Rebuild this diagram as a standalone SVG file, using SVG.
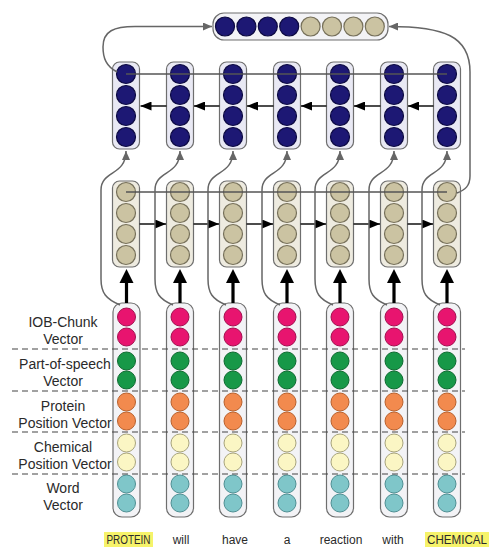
<svg xmlns="http://www.w3.org/2000/svg" width="492" height="550" viewBox="0 0 492 550">
<defs>
<style>
.bx{stroke:#6e6e6e;stroke-width:1.2}
.bt{fill:#e9e9f4}
.bm{fill:#eeebe0}
.bb{fill:#f3f3f6}
.db{fill:#1d1874;stroke:#0d0a42;stroke-width:1.2}
.tn{fill:#cbc3a2;stroke:#76705a;stroke-width:1.2}
.pk{fill:#e8146f;stroke:#a3104f;stroke-width:1}
.gr{fill:#179848;stroke:#0e6a30;stroke-width:1}
.or{fill:#f28a4e;stroke:#b8602c;stroke-width:1}
.ye{fill:#fbf6c4;stroke:#a8a47c;stroke-width:1}
.te{fill:#7fc6c9;stroke:#4f8f93;stroke-width:1}
.hl{stroke:#555;stroke-width:1.3;fill:none}
.ak{stroke:#111;stroke-width:1.5;fill:none;marker-end:url(#ab)}
.cv{stroke:#666;stroke-width:1.5;fill:none;marker-end:url(#ag)}
.th{stroke:#000;stroke-width:3.2}
.dash{stroke:#444;stroke-width:1.2;stroke-dasharray:6 4}
.lb{font-family:"Liberation Sans",Arial,sans-serif;font-size:14px;fill:#2a2a2a;text-anchor:middle}
.wd{font-family:"Liberation Sans",Arial,sans-serif;font-size:12px;fill:#2a2a2a;text-anchor:middle}
</style>
<marker id="ab" markerUnits="userSpaceOnUse" markerWidth="11" markerHeight="9" refX="11" refY="4.5" orient="auto"><path d="M0,0 L11,4.5 L0,9 z" fill="#000"/></marker>
<marker id="ag" markerUnits="userSpaceOnUse" markerWidth="9" markerHeight="8" refX="9" refY="4" orient="auto"><path d="M0,0 L9,4 L0,8 z" fill="#666"/></marker>
</defs>
<rect width="492" height="550" fill="#fff"/>

<g id="output">
<rect class="bx bb" x="213" y="13" width="175" height="27" rx="11"/>
<circle class="db" cx="225" cy="26.5" r="9.5"/>
<circle class="db" cx="246.4" cy="26.5" r="9.5"/>
<circle class="db" cx="267.8" cy="26.5" r="9.5"/>
<circle class="db" cx="289.2" cy="26.5" r="9.5"/>
<circle class="tn" cx="310.6" cy="26.5" r="9.5"/>
<circle class="tn" cx="332" cy="26.5" r="9.5"/>
<circle class="tn" cx="353.4" cy="26.5" r="9.5"/>
<circle class="tn" cx="374.8" cy="26.5" r="9.5"/>
</g>

<g id="top-layer">
<g id="t1"><rect class="bx bt" x="112.5" y="62" width="27" height="87" rx="7"/><circle class="db" cx="126" cy="74" r="9.5"/><circle class="db" cx="126" cy="95" r="9.5"/><circle class="db" cx="126" cy="116" r="9.5"/><circle class="db" cx="126" cy="137" r="9.5"/></g>
<g id="t2"><rect class="bx bt" x="166.5" y="62" width="27" height="87" rx="7"/><circle class="db" cx="180" cy="74" r="9.5"/><circle class="db" cx="180" cy="95" r="9.5"/><circle class="db" cx="180" cy="116" r="9.5"/><circle class="db" cx="180" cy="137" r="9.5"/></g>
<g id="t3"><rect class="bx bt" x="219.5" y="62" width="27" height="87" rx="7"/><circle class="db" cx="233" cy="74" r="9.5"/><circle class="db" cx="233" cy="95" r="9.5"/><circle class="db" cx="233" cy="116" r="9.5"/><circle class="db" cx="233" cy="137" r="9.5"/></g>
<g id="t4"><rect class="bx bt" x="273.5" y="62" width="27" height="87" rx="7"/><circle class="db" cx="287" cy="74" r="9.5"/><circle class="db" cx="287" cy="95" r="9.5"/><circle class="db" cx="287" cy="116" r="9.5"/><circle class="db" cx="287" cy="137" r="9.5"/></g>
<g id="t5"><rect class="bx bt" x="326.5" y="62" width="27" height="87" rx="7"/><circle class="db" cx="340" cy="74" r="9.5"/><circle class="db" cx="340" cy="95" r="9.5"/><circle class="db" cx="340" cy="116" r="9.5"/><circle class="db" cx="340" cy="137" r="9.5"/></g>
<g id="t6"><rect class="bx bt" x="380.5" y="62" width="27" height="87" rx="7"/><circle class="db" cx="394" cy="74" r="9.5"/><circle class="db" cx="394" cy="95" r="9.5"/><circle class="db" cx="394" cy="116" r="9.5"/><circle class="db" cx="394" cy="137" r="9.5"/></g>
<g id="t7"><rect class="bx bt" x="433.5" y="62" width="27" height="87" rx="7"/><circle class="db" cx="447" cy="74" r="9.5"/><circle class="db" cx="447" cy="95" r="9.5"/><circle class="db" cx="447" cy="116" r="9.5"/><circle class="db" cx="447" cy="137" r="9.5"/></g>
</g>

<g id="mid-layer">
<g id="m1"><rect class="bx bm" x="112.5" y="181" width="27" height="86" rx="7"/><circle class="tn" cx="126" cy="192" r="9.5"/><circle class="tn" cx="126" cy="213" r="9.5"/><circle class="tn" cx="126" cy="234" r="9.5"/><circle class="tn" cx="126" cy="255" r="9.5"/></g>
<g id="m2"><rect class="bx bm" x="166.5" y="181" width="27" height="86" rx="7"/><circle class="tn" cx="180" cy="192" r="9.5"/><circle class="tn" cx="180" cy="213" r="9.5"/><circle class="tn" cx="180" cy="234" r="9.5"/><circle class="tn" cx="180" cy="255" r="9.5"/></g>
<g id="m3"><rect class="bx bm" x="219.5" y="181" width="27" height="86" rx="7"/><circle class="tn" cx="233" cy="192" r="9.5"/><circle class="tn" cx="233" cy="213" r="9.5"/><circle class="tn" cx="233" cy="234" r="9.5"/><circle class="tn" cx="233" cy="255" r="9.5"/></g>
<g id="m4"><rect class="bx bm" x="273.5" y="181" width="27" height="86" rx="7"/><circle class="tn" cx="287" cy="192" r="9.5"/><circle class="tn" cx="287" cy="213" r="9.5"/><circle class="tn" cx="287" cy="234" r="9.5"/><circle class="tn" cx="287" cy="255" r="9.5"/></g>
<g id="m5"><rect class="bx bm" x="326.5" y="181" width="27" height="86" rx="7"/><circle class="tn" cx="340" cy="192" r="9.5"/><circle class="tn" cx="340" cy="213" r="9.5"/><circle class="tn" cx="340" cy="234" r="9.5"/><circle class="tn" cx="340" cy="255" r="9.5"/></g>
<g id="m6"><rect class="bx bm" x="380.5" y="181" width="27" height="86" rx="7"/><circle class="tn" cx="394" cy="192" r="9.5"/><circle class="tn" cx="394" cy="213" r="9.5"/><circle class="tn" cx="394" cy="234" r="9.5"/><circle class="tn" cx="394" cy="255" r="9.5"/></g>
<g id="m7"><rect class="bx bm" x="433.5" y="181" width="27" height="86" rx="7"/><circle class="tn" cx="447" cy="192" r="9.5"/><circle class="tn" cx="447" cy="213" r="9.5"/><circle class="tn" cx="447" cy="234" r="9.5"/><circle class="tn" cx="447" cy="255" r="9.5"/></g>
</g>

<g id="input-layer">
<g id="i1"><rect class="bx bb" x="113" y="303" width="27" height="214" rx="9"/><circle class="pk" cx="126.5" cy="317" r="9"/><circle class="pk" cx="126.5" cy="337" r="9"/><circle class="gr" cx="126.5" cy="361" r="9"/><circle class="gr" cx="126.5" cy="380" r="9"/><circle class="or" cx="126.5" cy="402" r="9"/><circle class="or" cx="126.5" cy="421" r="9"/><circle class="ye" cx="126.5" cy="443" r="9"/><circle class="ye" cx="126.5" cy="462" r="9"/><circle class="te" cx="126.5" cy="484" r="9"/><circle class="te" cx="126.5" cy="503" r="9"/></g>
<g id="i2"><rect class="bx bb" x="166.5" y="303" width="27" height="214" rx="9"/><circle class="pk" cx="180" cy="317" r="9"/><circle class="pk" cx="180" cy="337" r="9"/><circle class="gr" cx="180" cy="361" r="9"/><circle class="gr" cx="180" cy="380" r="9"/><circle class="or" cx="180" cy="402" r="9"/><circle class="or" cx="180" cy="421" r="9"/><circle class="ye" cx="180" cy="443" r="9"/><circle class="ye" cx="180" cy="462" r="9"/><circle class="te" cx="180" cy="484" r="9"/><circle class="te" cx="180" cy="503" r="9"/></g>
<g id="i3"><rect class="bx bb" x="219.5" y="303" width="27" height="214" rx="9"/><circle class="pk" cx="233" cy="317" r="9"/><circle class="pk" cx="233" cy="337" r="9"/><circle class="gr" cx="233" cy="361" r="9"/><circle class="gr" cx="233" cy="380" r="9"/><circle class="or" cx="233" cy="402" r="9"/><circle class="or" cx="233" cy="421" r="9"/><circle class="ye" cx="233" cy="443" r="9"/><circle class="ye" cx="233" cy="462" r="9"/><circle class="te" cx="233" cy="484" r="9"/><circle class="te" cx="233" cy="503" r="9"/></g>
<g id="i4"><rect class="bx bb" x="273.5" y="303" width="27" height="214" rx="9"/><circle class="pk" cx="287" cy="317" r="9"/><circle class="pk" cx="287" cy="337" r="9"/><circle class="gr" cx="287" cy="361" r="9"/><circle class="gr" cx="287" cy="380" r="9"/><circle class="or" cx="287" cy="402" r="9"/><circle class="or" cx="287" cy="421" r="9"/><circle class="ye" cx="287" cy="443" r="9"/><circle class="ye" cx="287" cy="462" r="9"/><circle class="te" cx="287" cy="484" r="9"/><circle class="te" cx="287" cy="503" r="9"/></g>
<g id="i5"><rect class="bx bb" x="326.5" y="303" width="27" height="214" rx="9"/><circle class="pk" cx="340" cy="317" r="9"/><circle class="pk" cx="340" cy="337" r="9"/><circle class="gr" cx="340" cy="361" r="9"/><circle class="gr" cx="340" cy="380" r="9"/><circle class="or" cx="340" cy="402" r="9"/><circle class="or" cx="340" cy="421" r="9"/><circle class="ye" cx="340" cy="443" r="9"/><circle class="ye" cx="340" cy="462" r="9"/><circle class="te" cx="340" cy="484" r="9"/><circle class="te" cx="340" cy="503" r="9"/></g>
<g id="i6"><rect class="bx bb" x="380.5" y="303" width="27" height="214" rx="9"/><circle class="pk" cx="394" cy="317" r="9"/><circle class="pk" cx="394" cy="337" r="9"/><circle class="gr" cx="394" cy="361" r="9"/><circle class="gr" cx="394" cy="380" r="9"/><circle class="or" cx="394" cy="402" r="9"/><circle class="or" cx="394" cy="421" r="9"/><circle class="ye" cx="394" cy="443" r="9"/><circle class="ye" cx="394" cy="462" r="9"/><circle class="te" cx="394" cy="484" r="9"/><circle class="te" cx="394" cy="503" r="9"/></g>
<g id="i7"><rect class="bx bb" x="433.5" y="303" width="27" height="214" rx="9"/><circle class="pk" cx="447" cy="317" r="9"/><circle class="pk" cx="447" cy="337" r="9"/><circle class="gr" cx="447" cy="361" r="9"/><circle class="gr" cx="447" cy="380" r="9"/><circle class="or" cx="447" cy="402" r="9"/><circle class="or" cx="447" cy="421" r="9"/><circle class="ye" cx="447" cy="443" r="9"/><circle class="ye" cx="447" cy="462" r="9"/><circle class="te" cx="447" cy="484" r="9"/><circle class="te" cx="447" cy="503" r="9"/></g>
</g>

<g id="separators">
<line class="dash" x1="12" y1="349" x2="465" y2="349"/>
<line class="dash" x1="12" y1="391" x2="465" y2="391"/>
<line class="dash" x1="12" y1="432" x2="465" y2="432"/>
<line class="dash" x1="12" y1="474" x2="465" y2="474"/>
</g>

<g id="labels">
<text class="lb" x="63" y="327">IOB-Chunk</text>
<text class="lb" x="63" y="344">Vector</text>
<text class="lb" x="65" y="369">Part-of-speech</text>
<text class="lb" x="63" y="386">Vector</text>
<text class="lb" x="63" y="411">Protein</text>
<text class="lb" x="65" y="428">Position Vector</text>
<text class="lb" x="63" y="452">Chemical</text>
<text class="lb" x="65" y="469">Position Vector</text>
<text class="lb" x="63" y="493">Word</text>
<text class="lb" x="63" y="510">Vector</text>
</g>

<g id="words">
<rect x="104" y="532" width="49" height="15" fill="#f6f36a"/>
<rect x="425" y="532" width="64" height="15" fill="#f6f36a"/>
<text class="wd" x="128.5" y="544" textLength="44" lengthAdjust="spacingAndGlyphs">PROTEIN</text>
<text class="wd" x="181" y="544">will</text>
<text class="wd" x="235" y="544">have</text>
<text class="wd" x="287" y="544">a</text>
<text class="wd" x="341" y="544">reaction</text>
<text class="wd" x="393" y="544">with</text>
<text class="wd" x="457" y="544" textLength="60" lengthAdjust="spacingAndGlyphs">CHEMICAL</text>
</g>

<g id="connectors">
<line class="hl" x1="126" y1="74" x2="447" y2="74"/>
<line class="hl" x1="126" y1="192" x2="447" y2="192"/>
<line class="ak" x1="166.5" y1="106" x2="140.5" y2="106"/>
<line class="ak" x1="219.5" y1="106" x2="194" y2="106"/>
<line class="ak" x1="273.5" y1="106" x2="247" y2="106"/>
<line class="ak" x1="326.5" y1="106" x2="301" y2="106"/>
<line class="ak" x1="380.5" y1="106" x2="354" y2="106"/>
<line class="ak" x1="433.5" y1="106" x2="408" y2="106"/>
<line class="ak" x1="139.5" y1="224" x2="166" y2="224"/>
<line class="ak" x1="193.5" y1="224" x2="219" y2="224"/>
<line class="ak" x1="246.5" y1="224" x2="273" y2="224"/>
<line class="ak" x1="300.5" y1="224" x2="326" y2="224"/>
<line class="ak" x1="353.5" y1="224" x2="380" y2="224"/>
<line class="ak" x1="407.5" y1="224" x2="433" y2="224"/>
<g id="up-arrows">
<line class="th" x1="126.5" y1="303" x2="126.5" y2="281"/><polygon points="119.5,283 133.5,283 126.5,269"/>
<line class="th" x1="180" y1="303" x2="180" y2="281"/><polygon points="173,283 187,283 180,269"/>
<line class="th" x1="233" y1="303" x2="233" y2="281"/><polygon points="226,283 240,283 233,269"/>
<line class="th" x1="287" y1="303" x2="287" y2="281"/><polygon points="280,283 294,283 287,269"/>
<line class="th" x1="340" y1="303" x2="340" y2="281"/><polygon points="333,283 347,283 340,269"/>
<line class="th" x1="394" y1="303" x2="394" y2="281"/><polygon points="387,283 401,283 394,269"/>
<line class="th" x1="447" y1="303" x2="447" y2="281"/><polygon points="440,283 454,283 447,269"/>
</g>
<g id="skip-curves">
<path class="cv" d="M120,305 C106,299 101,293 101,279 L101,190 C101,170 126,176 126,151"/>
<path class="cv" d="M173,305 C159,299 155,293 155,279 L155,190 C155,170 180,176 180,151"/>
<path class="cv" d="M226,305 C212,299 208,293 208,279 L208,190 C208,170 233,176 233,151"/>
<path class="cv" d="M280,305 C266,299 262,293 262,279 L262,190 C262,170 287,176 287,151"/>
<path class="cv" d="M333,305 C319,299 315,293 315,279 L315,190 C315,170 340,176 340,151"/>
<path class="cv" d="M387,305 C373,299 369,293 369,279 L369,190 C369,170 394,176 394,151"/>
<path class="cv" d="M440,305 C426,299 422,293 422,279 L422,190 C422,170 447,176 447,151"/>
</g>
<path class="cv" d="M117,72 C106,66 103,58 103,47 C103,31 114,26.5 135,26.5 L212,26.5"/>
<path class="cv" d="M457,193 C465,190 470,186 470,176 L470,72 C470,36 444,26.5 389,26.5"/>
</g>
</svg>
